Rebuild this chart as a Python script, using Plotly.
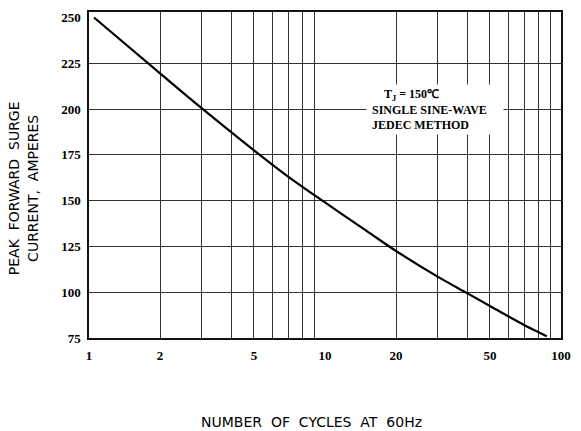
import plotly.graph_objects as go

# Data
cycles = [1.05, 2, 3, 5, 7, 10, 15, 20, 30, 40, 50, 60, 70, 80, 87]
current = [250, 219.5, 200.5, 177.5, 163, 149, 133.5, 122.5, 108.5, 99.5, 92.5, 86.7, 82, 78.3, 76]

x_tick_vals = [1, 2, 5, 10, 20, 50, 100]
x_tick_text = ["1", "2", "5", "10", "20", "50", "100"]
x_grid_vals = [2, 3, 4, 5, 6, 7, 8, 9, 20, 30, 40, 50, 60, 70, 80, 90]
y_tick_vals = [75, 100, 125, 150, 175, 200, 225, 250]
y_grid_vals = [100, 125, 150, 175, 200, 225]

note_text = ("\u00a0\u00a0\u00a0\u00a0\u00a0T<sub>J</sub> = 150\u2103<br>"
             "\u00a0SINGLE SINE-WAVE<br>"
             "\u00a0JEDEC METHOD")

serif = "Liberation Serif"
sans = "DejaVu Sans"
grid_color = "#333333"

fig = go.Figure()
fig.add_trace(go.Scatter(
    x=cycles, y=current, mode="lines",
    line=dict(color="black", width=2.2, shape="spline", smoothing=1.0),
    showlegend=False, hoverinfo="skip",
))

fig.update_layout(
    width=581, height=431,
    margin=dict(l=89, r=20, t=10, b=93),
    paper_bgcolor="white", plot_bgcolor="white",
    xaxis=dict(
        type="log", range=[0, 2],
        tickmode="array", tickvals=x_tick_vals, ticktext=x_tick_text,
        tickfont=dict(family=serif, size=13, color="black", weight="bold"),
        ticks="outside", ticklen=5, tickcolor="rgba(0,0,0,0)",
        showgrid=False, zeroline=False,
        showline=True, mirror=True, linecolor="#111", linewidth=1.5,
        minor=dict(tickmode="array", tickvals=x_grid_vals, showgrid=True,
                   gridcolor=grid_color, gridwidth=1, ticks=""),
    ),
    yaxis=dict(
        range=[75, 253],
        tickmode="array", tickvals=y_tick_vals,
        tickfont=dict(family=serif, size=13, color="black", weight="bold"),
        ticks="outside", ticklen=4, tickcolor="rgba(0,0,0,0)",
        showgrid=False, zeroline=False,
        showline=True, mirror=True, linecolor="#111", linewidth=1.5,
        minor=dict(tickmode="array", tickvals=y_grid_vals, showgrid=True,
                   gridcolor=grid_color, gridwidth=1, ticks=""),
    ),
    annotations=[
        dict(text=note_text, xref="paper", yref="paper", x=0.733, y=0.700,
             xanchor="center", yanchor="middle", showarrow=False, align="left",
             width=132, borderpad=2, bgcolor="white",
             font=dict(family=serif, size=12, color="black", weight="bold")),
        dict(text="PEAK\u00a0 FORWARD\u00a0 SURGE<br>CURRENT,\u00a0 AMPERES",
             xref="paper", yref="paper",
             x=-0.138, y=0.459, xanchor="center", yanchor="middle", showarrow=False,
             textangle=-90, align="center",
             font=dict(family=sans, size=14, color="black")),
        dict(text="NUMBER\u00a0 OF\u00a0 CYCLES\u00a0 AT\u00a0 60Hz",
             xref="paper", yref="paper",
             x=0.472, y=-0.258, xanchor="center", yanchor="middle", showarrow=False,
             font=dict(family=sans, size=14, color="black")),
    ],
)

fig.write_html("out.html")
